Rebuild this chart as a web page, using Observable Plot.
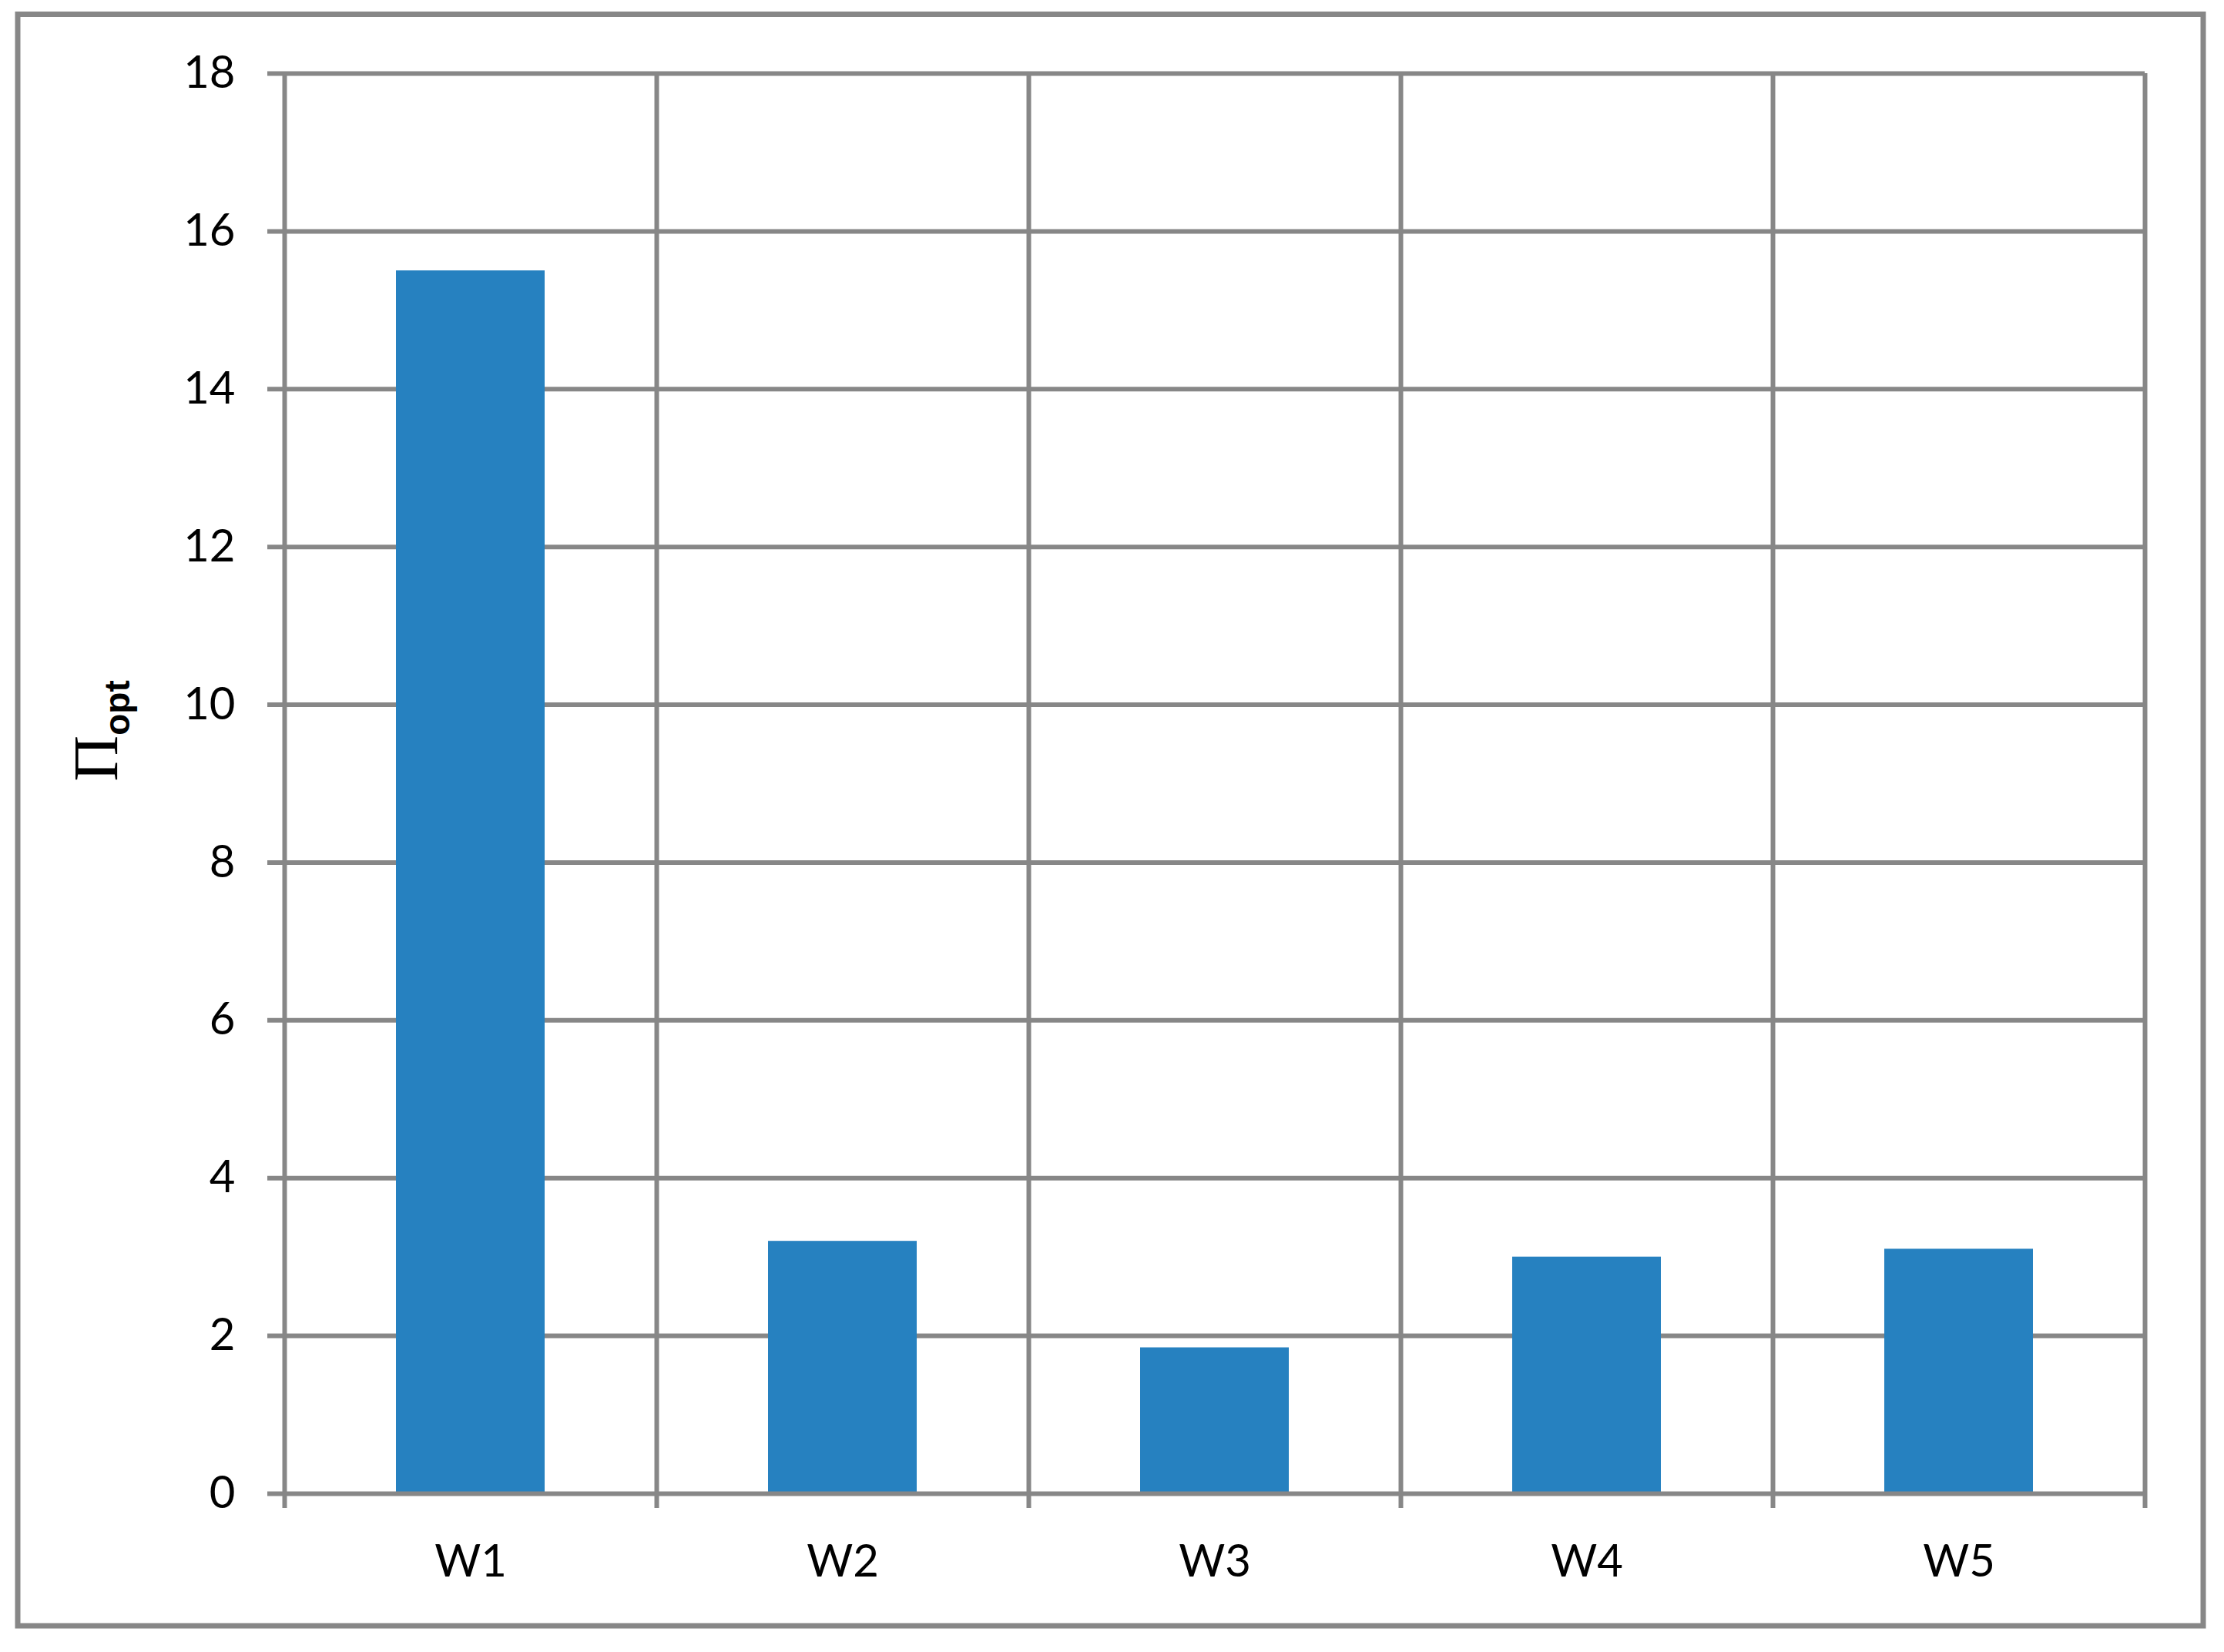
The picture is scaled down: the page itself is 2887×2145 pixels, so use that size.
<!DOCTYPE html>
<html>
<head>
<meta charset="utf-8">
<script src="https://cdn.jsdelivr.net/npm/d3@7"></script>
<script src="https://cdn.jsdelivr.net/npm/@observablehq/plot@0.6"></script>
<style>
  html, body { margin: 0; padding: 0; background: #ffffff; }
  #chart svg { display: block; }
</style>
</head>
<body>
<div id="chart"></div>
<script>
const categories = ["W1", "W2", "W3", "W4", "W5"];
const values = [15.5, 3.2, 1.85, 3.0, 3.1];
const yTicks = [0, 2, 4, 6, 8, 10, 12, 14, 16, 18];

const data = categories.map((c, i) => ({cat: c, value: values[i], i}));
const bounds = d3.range(categories.length + 1);
const centers = categories.map((c, i) => i + 0.5);

const gray = "#878787";
const blue = "#2681c0";

const plot = Plot.plot({
  width: 2887,
  height: 2145,
  marginLeft: 369,
  marginRight: 103,
  marginTop: 95,
  marginBottom: 206,
  style: {fontFamily: "Lato", fontSize: "58px", color: "#000", background: "#fff"},
  x: {domain: [0, categories.length]},
  y: {domain: [0, 18]},
  marks: [
    Plot.ruleY(yTicks.filter(d => d !== 0), {y: d => d, x1: 0, x2: categories.length, stroke: gray, strokeWidth: 6, insetLeft: -22}),
    Plot.ruleX(bounds, {x: d => d, y1: 18, y2: 0, stroke: gray, strokeWidth: 6, insetBottom: -19}),
    Plot.rectY(data, {x1: d => d.i, x2: d => d.i + 1, y1: 0, y2: "value", fill: blue, insetLeft: 145, insetRight: 145}),
    Plot.ruleY([0], {x1: 0, x2: categories.length, stroke: gray, strokeWidth: 6, insetLeft: -22}),
    Plot.axisY({ticks: yTicks, tickSize: 0, tickPadding: 64, label: null, tickFormat: d => String(d)}),
    Plot.axisX({ticks: centers, tickSize: 0, tickPadding: 66, label: null, tickFormat: d => categories[Math.floor(d)]})
  ]
});

const svg = d3.select(plot);
svg.append("rect")
  .attr("x", 23).attr("y", 18.5)
  .attr("width", 2860 - 23).attr("height", 2111 - 18.5)
  .attr("fill", "none").attr("stroke", gray).attr("stroke-width", 7);

const lab = svg.append("text")
  .attr("transform", "translate(152,949) rotate(-90)")
  .attr("text-anchor", "middle")
  .attr("fill", "#000");
lab.append("tspan").attr("font-family", "'Liberation Serif'").attr("font-size", 83).text("Π");
lab.append("tspan").attr("font-family", "'Liberation Sans'").attr("font-weight", "bold").attr("font-size", 46).attr("dy", 16).text("opt");

document.getElementById("chart").appendChild(plot);
</script>
</body>
</html>
